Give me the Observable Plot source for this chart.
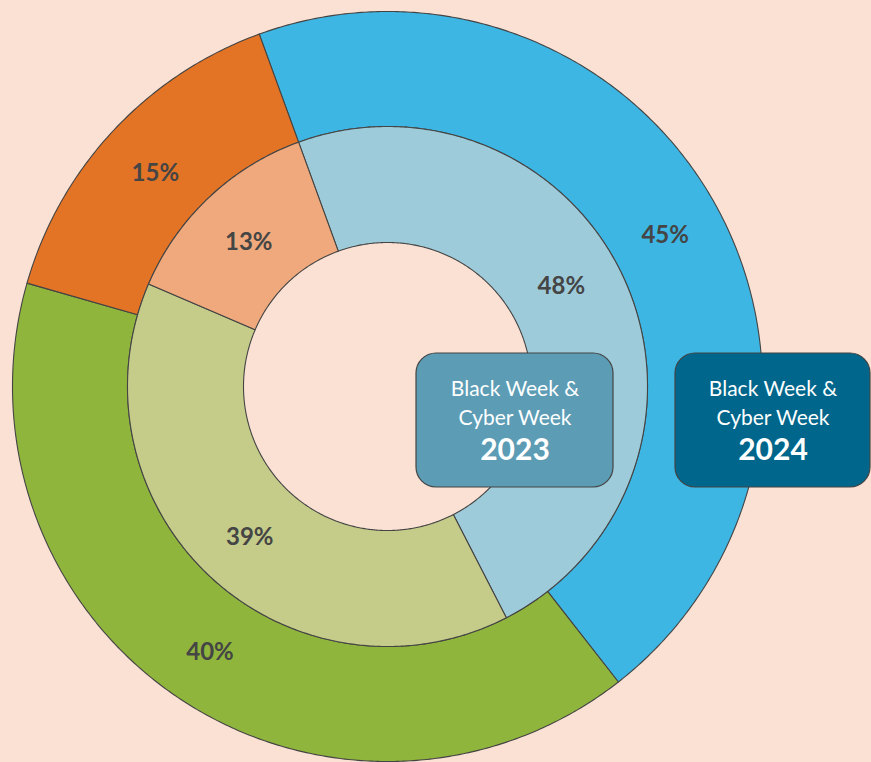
<!DOCTYPE html>
<html>
<head>
<meta charset="utf-8">
<script src="https://cdn.jsdelivr.net/npm/d3@7"></script>
<script src="https://cdn.jsdelivr.net/npm/@observablehq/plot@0.6"></script>
<style>
  html, body { margin: 0; padding: 0; background: #FAE1D4; overflow: hidden; }
  #chart svg { display: block; }
</style>
</head>
<body>
<div id="chart"></div>
<script>
// ---- data ----
const categories = ["Online", "In-store", "Both"];
const values2024 = [45, 40, 15];
const values2023 = [48, 39, 13];
const colors2024 = ["#3DB6E3", "#8FB53C", "#E37325"];
const colors2023 = ["#9DCBDA", "#C5CC89", "#EFA97C"];
const years = ["2023", "2024"];
const boxLines = ["Black Week &", "Cyber Week"];
const boxColors = ["#5C9CB5", "#01668B"];

// ---- layout ----
const W = 871, H = 762;
const cx = 387, cy = 386;
const startDeg = -20;
const rings = [
  {year: "2024", values: values2024, colors: colors2024, r0: 260, r1: 375},
  {year: "2023", values: values2023, colors: colors2023, r0: 144, r1: 260}
];
const labelAngleShift = {"2023|Online": -7};
const boxLayout = {"2023": {x1: 416, x2: 613}, "2024": {x1: 675, x2: 870}};
const boxY1 = 353, boxY2 = 487;

const rad = d => d * Math.PI / 180;
const pt = (r, a) => ({x: cx + r * Math.sin(rad(a)), y: cy - r * Math.cos(rad(a))});

const arcPoints = [];
const labels = [];
for (const ring of rings) {
  const total = d3.sum(ring.values);
  let a = startDeg;
  ring.values.forEach((v, i) => {
    const span = v / total * 360;
    const a0 = a, a1 = a + span;
    const id = ring.year + "|" + categories[i];
    const n = Math.max(2, Math.ceil(span * 2));
    const outer = d3.range(n + 1).map(k => a0 + span * k / n);
    for (const t of outer) arcPoints.push({id, color: ring.colors[i], ...pt(ring.r1, t)});
    for (const t of outer.slice().reverse()) arcPoints.push({id, color: ring.colors[i], ...pt(ring.r0, t)});
    const mid = (a0 + a1) / 2 + (labelAngleShift[id] || 0);
    labels.push({text: v + "%", ...pt((ring.r0 + ring.r1) / 2, mid)});
    a = a1;
  });
}

const boxes = years.map((y, i) => ({
  year: y, fill: boxColors[i],
  x1: boxLayout[y].x1, x2: boxLayout[y].x2, y1: boxY1, y2: boxY2,
  xm: (boxLayout[y].x1 + boxLayout[y].x2) / 2
}));
const boxText = boxes.flatMap(b => [
  {x: b.xm, y: boxY1 + 36, text: boxLines[0], weight: "normal"},
  {x: b.xm, y: boxY1 + 65, text: boxLines[1], weight: "normal"},
  {x: b.xm, y: boxY1 + 97, text: b.year, weight: "bold"}
]);

const chart = Plot.plot({
  width: W, height: H,
  marginTop: 0, marginRight: 0, marginBottom: 0, marginLeft: 0,
  style: {background: "#FAE1D4", fontFamily: "Lato, 'DejaVu Sans', sans-serif"},
  x: {domain: [0, W], range: [0, W], axis: null},
  y: {domain: [0, H], range: [0, H], axis: null},
  color: {type: "identity"},
  marks: [
    Plot.line(arcPoints, {x: "x", y: "y", z: "id", fill: "color", stroke: "#444", strokeWidth: 1.1, curve: "linear-closed"}),
    Plot.text(labels, {x: "x", y: "y", text: "text", fill: "#454545", fontSize: 24, fontWeight: "bold", dy: 3}),
    Plot.rect(boxes, {x1: "x1", x2: "x2", y1: "y1", y2: "y2", fill: "fill", stroke: "#444", strokeWidth: 1.2, rx: 20}),
    Plot.text(boxText.filter(d => d.weight === "normal"), {x: "x", y: "y", text: "text", fill: "white", fontSize: 21}),
    Plot.text(boxText.filter(d => d.weight === "bold"), {x: "x", y: "y", text: "text", fill: "white", fontSize: 30, fontWeight: "bold"})
  ]
});
document.getElementById("chart").appendChild(chart);
</script>
</body>
</html>
